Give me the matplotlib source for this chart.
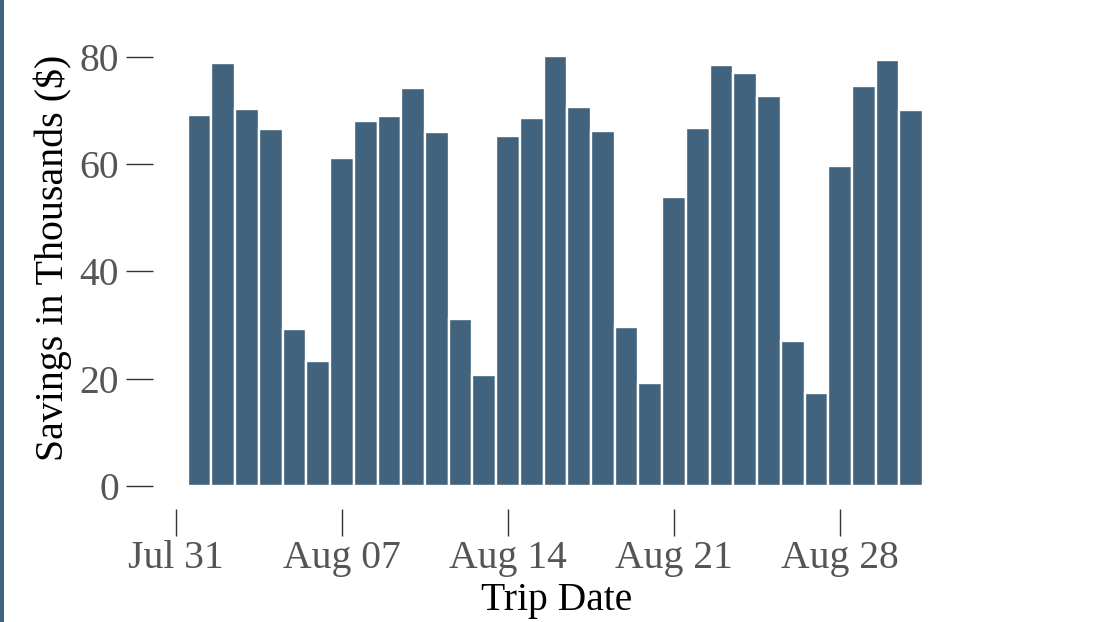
import datetime as dt

import matplotlib
matplotlib.use("Agg")
import matplotlib.pyplot as plt
import matplotlib.dates as mdates
from matplotlib.patches import Rectangle

# Daily savings per trip date (thousands of dollars)
trip_dates = [dt.date(2023, 8, d) for d in range(1, 32)]
savings = [69.1, 78.8, 70.3, 66.5, 29.2, 23.3, 61.1,
           68.0, 68.9, 74.2, 66.0, 31.2, 20.7, 65.2,
           68.6, 80.1, 70.6, 66.2, 29.7, 19.2, 53.8,
           66.7, 78.5, 77.0, 72.6, 27.0, 17.3, 59.6,
           74.6, 79.3, 70.1]

tick_dates = [dt.date(2023, 7, 31), dt.date(2023, 8, 7), dt.date(2023, 8, 14),
              dt.date(2023, 8, 21), dt.date(2023, 8, 28)]
tick_labels = ["Jul 31", "Aug 07", "Aug 14", "Aug 21", "Aug 28"]
y_ticks = [0, 20, 40, 60, 80]

BAR_COLOR = "#41637d"
SERIF = ["Liberation Serif", "DejaVu Serif"]

W, H = 1098, 622
fig = plt.figure(figsize=(W / 100, H / 100), dpi=100)
fig.patch.set_facecolor("white")

# thin accent strip along the left edge of the figure
fig.patches.append(Rectangle((0, 0), 4 / W, 1, transform=fig.transFigure,
                             facecolor=BAR_COLOR, edgecolor="none"))

left_px, right_px, bottom_px, top_px = 164, 935, 486, 46
ax = fig.add_axes([left_px / W, (H - bottom_px) / H,
                   (right_px - left_px) / W, (bottom_px - top_px) / H])

x = mdates.date2num(trip_dates)
ax.bar(x, savings, width=1.0, color=BAR_COLOR, edgecolor="white",
       linewidth=1.7, zorder=2)

x0 = mdates.date2num(dt.date(2023, 7, 31)) - 0.5
x1 = mdates.date2num(dt.date(2023, 9, 1))
ax.set_xlim(x0, x1)
ax.set_ylim(0, 82)

ax.set_xticks(mdates.date2num(tick_dates))
ax.set_xticklabels(tick_labels)
ax.set_yticks(y_ticks)
ax.set_yticklabels([str(v) for v in y_ticks])

for side in ("top", "right", "left", "bottom"):
    ax.spines[side].set_visible(False)
ax.spines["left"].set_position(("outward", 7.9))
ax.spines["bottom"].set_position(("outward", 16.6))

ax.tick_params(axis="both", which="major", length=19.5, width=1.0,
               color="#333333", labelcolor="#555555", labelsize=28.5)
ax.tick_params(axis="y", pad=5)
ax.tick_params(axis="x", pad=3)
for lab in ax.get_xticklabels() + ax.get_yticklabels():
    lab.set_family(SERIF)

ax.set_xlabel("Trip Date", fontsize=28.5, family=SERIF, color="black")
ax.set_ylabel("Savings in Thousands ($)", fontsize=28.7, family=SERIF,
              color="black")
ax.xaxis.set_label_coords((557 - left_px) / (right_px - left_px),
                          (bottom_px - 582) / (bottom_px - top_px))
ax.yaxis.label.set_va("center")
ax.yaxis.set_label_coords((53 - left_px) / (right_px - left_px),
                          (bottom_px - 257.5) / (bottom_px - top_px))

ax.set_facecolor("white")
fig.savefig("out.png", dpi=100, facecolor="white")
